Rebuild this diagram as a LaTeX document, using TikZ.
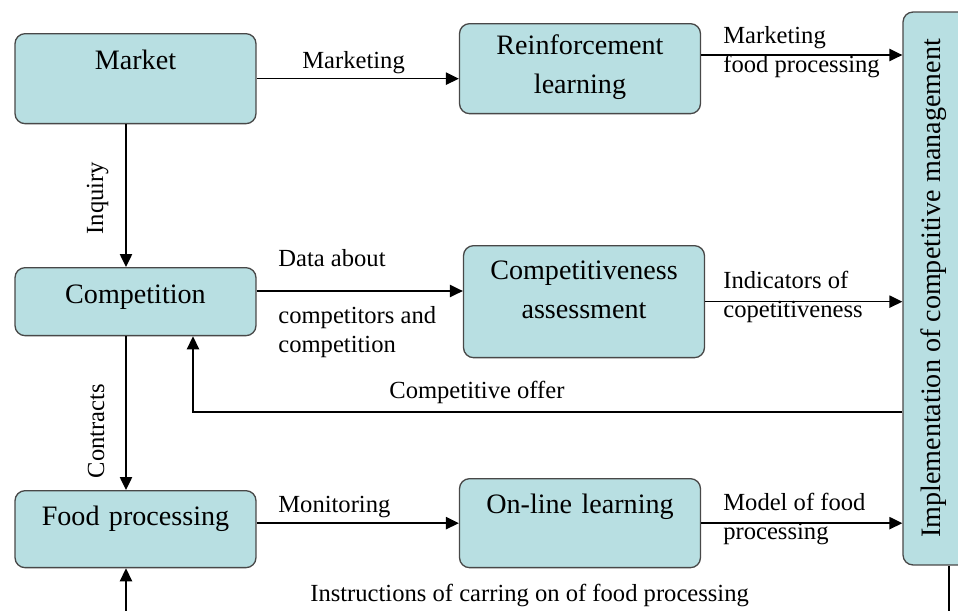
\documentclass[tikz,border=0pt]{standalone}
\usepackage{fontspec}
\setmainfont{Liberation Serif}
\usetikzlibrary{arrows.meta}

\definecolor{boxfill}{RGB}{184,223,226}
\definecolor{boxline}{RGB}{72,72,72}

\begin{document}
\begin{tikzpicture}[x=0.02cm,y=-0.02cm,>={Triangle[length=7.4pt,width=7pt]}]

  \tikzstyle{boxbase}=[rectangle,rounded corners=0.2cm,draw=boxline,fill=boxfill,line width=0.75pt,inner sep=0pt,align=center,font=\fontsize{16}{22}\selectfont]
  \tikzstyle{box}=[boxbase,anchor=north,text width=4.82cm]
  \tikzstyle{lbl}=[inner sep=0pt,anchor=base west,font=\fontsize{14}{17}\selectfont]
  \tikzstyle{lbltwo}=[lbl,text width=4cm,align=flush left]
  \tikzstyle{flow}=[->,line width=0.85pt]

  \useasboundingbox (0,0) rectangle (958,610);
  \clip (0,0) rectangle (958,610);

  % boxes
  \node [box,text height=0.72cm,text depth=1.08cm] (market) at (135.5,33)  {Market};
  \node [box,text height=0.62cm,text depth=1.18cm] (reinf)  at (580,23)    {Reinforcement\\learning};
  \node [box,text height=0.72cm,text depth=0.64cm] (compet) at (135.5,267) {Competition};
  \node [box,text height=0.68cm,text depth=1.56cm] (assess) at (584,245)   {Competitiveness\\assessment};
  \node [box,text height=0.70cm,text depth=0.84cm] (food)   at (135.5,490) {Food processing};
  \node [box,text height=0.70cm,text depth=1.08cm] (online) at (580,478)   {On-line learning};
  \node [boxbase,rotate=90,minimum width=11.06cm,text height=0.74cm,text depth=1.1cm] (impl) at (949,288.5)
        {Implementation of competitive management};

  % lanes and rows
  \coordinate (lane) at (126,0);
  \coordinate (back) at (193,0);
  \coordinate (rowA) at (0,55);
  \coordinate (rowB) at (0,291);
  \coordinate (rowC) at (0,412);

  % connectors
  \draw [flow] (market.east) -- (market.east -| reinf.west);
  \draw [flow] (market.south -| lane) -- (compet.north -| lane);
  \draw [flow] (compet.south -| lane) -- (food.north -| lane);
  \draw [flow] (reinf.east |- rowA) -- (impl.north |- rowA);
  \draw [flow] (compet.east |- rowB) -- (assess.west |- rowB);
  \draw [flow] (assess.east) -- (assess.east -| impl.north);
  \draw [flow] (impl.north |- rowC) -| (compet.south -| back);
  \draw [flow] (food.east |- online.west) -- (online.west);
  \draw [flow] (online.east) -- (online.east -| impl.north);
  \draw [flow] (impl.west) -- ++(0,60) -| (food.south -| lane);

  % labels
  \node [lbl] (l-mkt)   at (302,68)  {Marketing};
  \node [lbltwo] (l-mfp) at (723,43) {Marketing\\food processing};
  \node [lbl] (l-data)  at (278,266) {Data about};
  \node [lbltwo] (l-comp) at (278,323) {competitors and\\competition};
  \node [lbltwo] (l-ind) at (723,288) {Indicators of\\copetitiveness};
  \node [lbl] (l-offer) at (389,398) {Competitive offer};
  \node [lbl] (l-mon)   at (278,512) {Monitoring};
  \node [lbltwo] (l-model) at (723,510) {Model of food\\processing};
  \node [lbl] (l-instr) at (310,601) {Instructions of carring on of food processing};
  \node [lbl,anchor=base,rotate=90] (l-inq) at (103,198) {Inquiry};
  \node [lbl,anchor=base,rotate=90] (l-con) at (104,431) {Contracts};

\end{tikzpicture}
\end{document}
